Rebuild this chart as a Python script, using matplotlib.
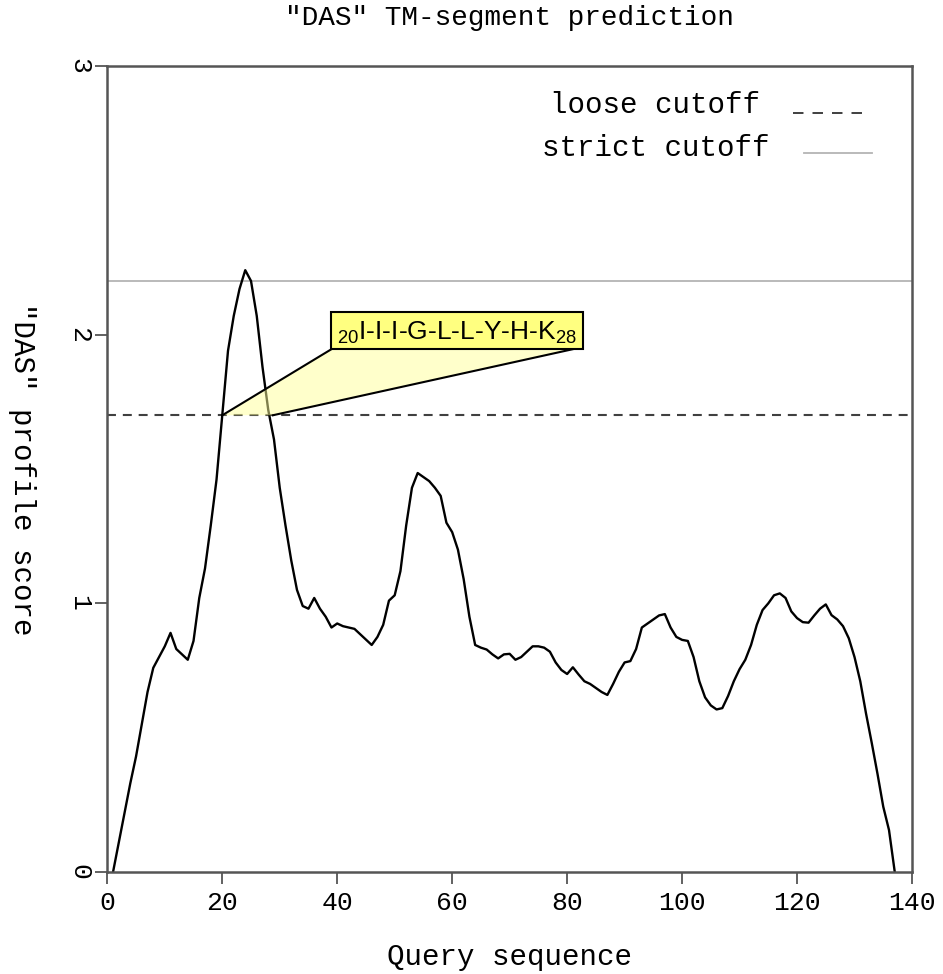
import matplotlib.pyplot as plt
from matplotlib.patches import Polygon, Rectangle

plt.rcParams['font.family'] = ['Liberation Mono', 'DejaVu Sans Mono']
plt.rcParams['mathtext.fontset'] = 'custom'
plt.rcParams['mathtext.rm'] = 'Liberation Sans'
plt.rcParams['mathtext.it'] = 'Liberation Sans'

# DAS profile score per residue, positions 1..137
positions = list(range(1, 138))
scores = [
    0.00, 0.11, 0.22, 0.33, 0.43, 0.55, 0.67, 0.76, 0.80, 0.84,
    0.89, 0.83, 0.81, 0.79, 0.86, 1.02, 1.13, 1.29, 1.46, 1.70,
    1.94, 2.07, 2.17, 2.24, 2.20, 2.07, 1.88, 1.72, 1.61, 1.43,
    1.29, 1.16, 1.05, 0.99, 0.98, 1.02, 0.98, 0.95, 0.91, 0.925,
    0.915, 0.91, 0.905, 0.885, 0.865, 0.845, 0.875, 0.92, 1.01, 1.03,
    1.12, 1.29, 1.43, 1.485, 1.47, 1.455, 1.43, 1.40, 1.30, 1.265,
    1.20, 1.09, 0.95, 0.845, 0.835, 0.828, 0.81, 0.795, 0.81, 0.812,
    0.79, 0.80, 0.82, 0.84, 0.84, 0.835, 0.82, 0.78, 0.752, 0.737,
    0.762, 0.735, 0.71, 0.70, 0.685, 0.67, 0.659, 0.70, 0.745, 0.78,
    0.785, 0.83, 0.91, 0.925, 0.94, 0.955, 0.96, 0.91, 0.875, 0.864,
    0.86, 0.80, 0.71, 0.65, 0.62, 0.605, 0.61, 0.655, 0.71, 0.755,
    0.79, 0.845, 0.92, 0.975, 1.00, 1.03, 1.037, 1.02, 0.97, 0.945,
    0.93, 0.928, 0.955, 0.98, 0.996, 0.956, 0.94, 0.915, 0.87, 0.80,
    0.71, 0.59, 0.48, 0.365, 0.243, 0.156, 0.00,
]

loose_cutoff = 1.7
strict_cutoff = 2.2

# predicted TM segment and its callout
segment_start, segment_end = 20, 28.8
callout_box = (39.0, 1.946, 82.8, 2.085)   # x0, y0, x1, y1 in data units
segment_label = r'$_{20}$I-I-I-G-L-L-Y-H-K$_{28}$'

xticks = [0, 20, 40, 60, 80, 100, 120, 140]
yticks = [0, 1, 2, 3]

W, H = 943, 974
fig = plt.figure(figsize=(W / 100, H / 100), dpi=100)
ax = fig.add_axes([107.3 / W, 102 / H, (912 - 107.3) / W, (872 - 66) / H])

frame = '#555555'
ax.axhline(strict_cutoff, color='#b4b4b4', lw=1.3, zorder=1)
ax.axhline(loose_cutoff, color='#404040', lw=1.5, ls=(0, (4.3, 3.3)), zorder=1)
ax.plot(positions, scores, color='black', lw=1.7, zorder=2)

# callout: translucent wedge from the segment up to the label box
x0, y0, x1, y1 = callout_box
wedge = Polygon([(segment_start, loose_cutoff), (x0, y0), (x1 - 1.8, y0),
                 (segment_end, loose_cutoff)], closed=True,
                facecolor='#ffff99', edgecolor='none', alpha=0.5, zorder=3)
ax.add_patch(wedge)
ax.plot([segment_start, x0], [loose_cutoff, y0], color='black', lw=1.5, zorder=4)
ax.plot([segment_end, x1 - 1.8], [loose_cutoff, y0], color='black', lw=1.5, zorder=4)
ax.add_patch(Rectangle((x0, y0), x1 - x0, y1 - y0, facecolor='#ffff80',
                       edgecolor='black', lw=1.5, zorder=5))
ax.text((x0 + x1) / 2, (y0 + y1) / 2 - 0.008, segment_label, ha='center', va='center',
        fontsize=19, family='Liberation Sans', zorder=6)

# hand-made legend in the upper right
ax.text(113.5, 2.855, 'loose cutoff', ha='right', va='center', fontsize=21)
ax.plot([119.3, 131.3], [2.825, 2.825], color='#303030', lw=1.3, ls=(0, (5.8, 5.0)))
ax.text(115.2, 2.694, 'strict cutoff', ha='right', va='center', fontsize=21)
ax.plot([121.2, 133.0], [2.676, 2.676], color='#b4b4b4', lw=1.3)

ax.set_xlim(0, 140)
ax.set_ylim(0, 3)
ax.set_xticks(xticks)
ax.set_yticks(yticks)
ax.tick_params(direction='out', length=8.5, width=1.3, color=frame, labelsize=19)
ax.tick_params(axis='x', pad=5)
ax.tick_params(axis='y', pad=3)
for lab in ax.get_yticklabels():
    lab.set_rotation(-90)
    lab.set_va('center')
for sp in ax.spines.values():
    sp.set_color(frame)
    sp.set_linewidth(1.8)

fig.text(509.6 / W, 1 - 18 / H, '"DAS" TM-segment prediction', ha='center', va='center',
         fontsize=20)
fig.text(509.6 / W, 1 - 957 / H, 'Query sequence', ha='center', va='center', fontsize=21)
fig.text(22 / W, 1 - 469 / H, '"DAS" profile score', ha='center', va='center',
         rotation=-90, fontsize=21)

fig.savefig('out.png', dpi=100)
